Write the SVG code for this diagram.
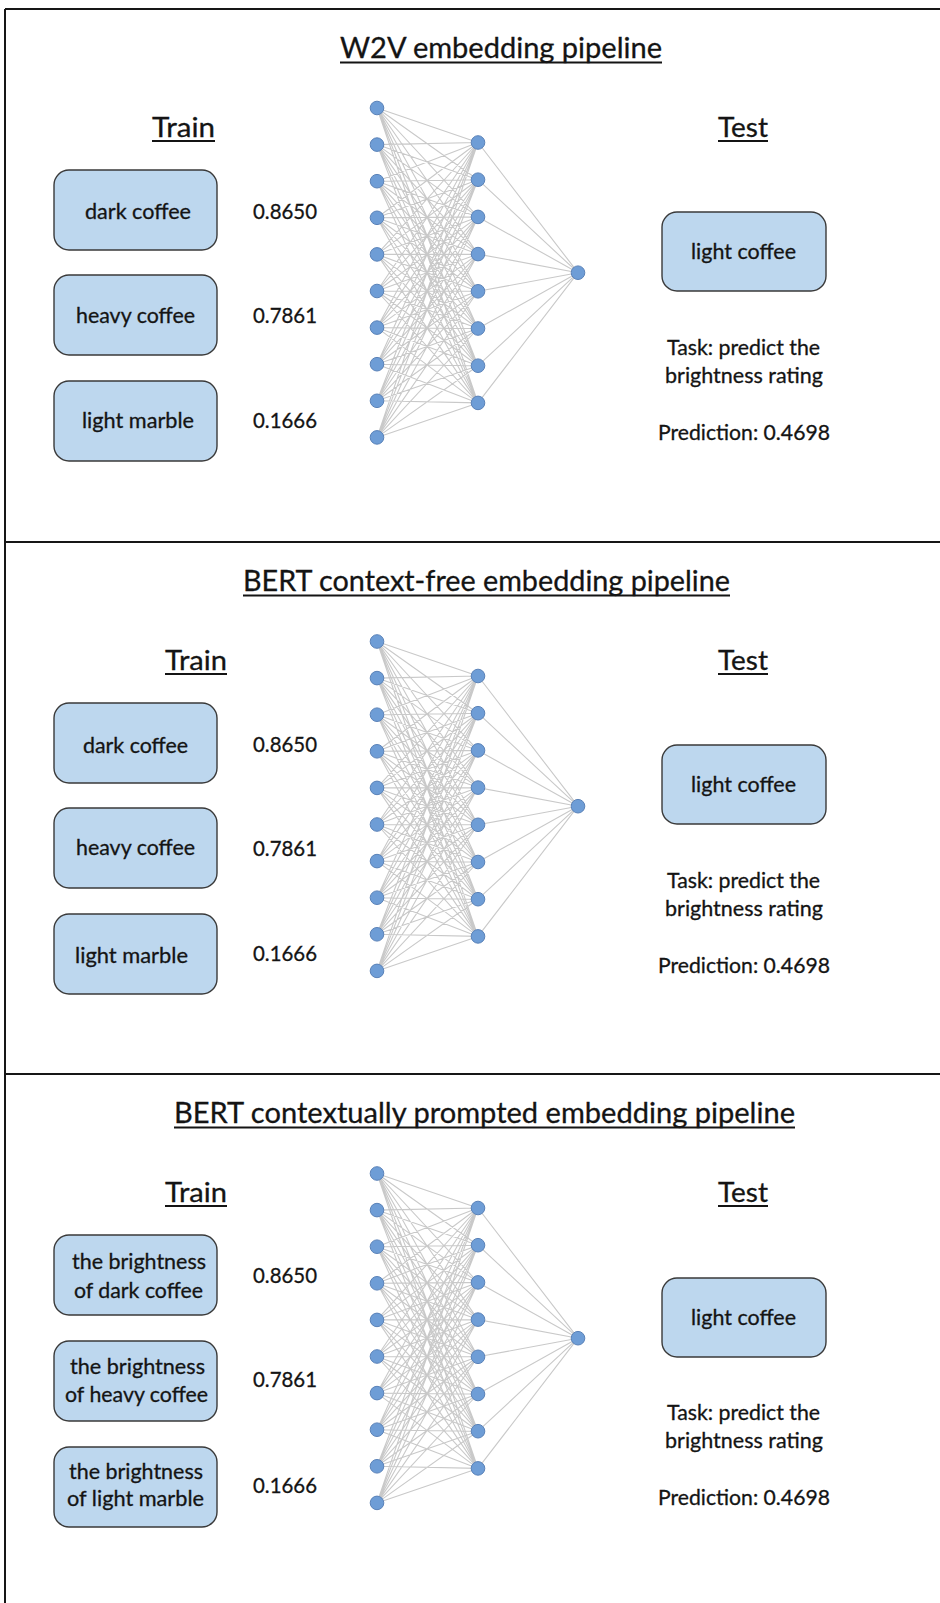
<svg xmlns="http://www.w3.org/2000/svg" xmlns:xlink="http://www.w3.org/1999/xlink" width="940" height="1603" viewBox="0 0 940 1603">
<style>
  .t{font-family:Lato,"Liberation Sans",sans-serif;fill:#141414;stroke:#141414;stroke-width:0.3px}
  .title{font-size:29px}
  .head{font-size:27px}
  .lbl{font-size:21.5px}
  .box{fill:#bdd7ee;stroke:#3a3a3a;stroke-width:1.4}
  .ul{fill:#141414}
  .n{fill:#6e9dd6;stroke:#5a82b8;stroke-width:1}
  .frame{stroke:#161616;stroke-width:2;fill:none}
</style>
<defs>
  <!-- fully connected 10-8-1 network, panel-local coordinates -->
  <path id="net-edges" fill="none" stroke="#c9c9c9" stroke-width="1.1" d="
M377 108L478 142.5M377 108L478 179.7M377 108L478 216.9M377 108L478 254.1M377 108L478 291.3M377 108L478 328.5M377 108L478 365.7M377 108L478 402.9
M377 144.6L478 142.5M377 144.6L478 179.7M377 144.6L478 216.9M377 144.6L478 254.1M377 144.6L478 291.3M377 144.6L478 328.5M377 144.6L478 365.7M377 144.6L478 402.9
M377 181.2L478 142.5M377 181.2L478 179.7M377 181.2L478 216.9M377 181.2L478 254.1M377 181.2L478 291.3M377 181.2L478 328.5M377 181.2L478 365.7M377 181.2L478 402.9
M377 217.8L478 142.5M377 217.8L478 179.7M377 217.8L478 216.9M377 217.8L478 254.1M377 217.8L478 291.3M377 217.8L478 328.5M377 217.8L478 365.7M377 217.8L478 402.9
M377 254.4L478 142.5M377 254.4L478 179.7M377 254.4L478 216.9M377 254.4L478 254.1M377 254.4L478 291.3M377 254.4L478 328.5M377 254.4L478 365.7M377 254.4L478 402.9
M377 291L478 142.5M377 291L478 179.7M377 291L478 216.9M377 291L478 254.1M377 291L478 291.3M377 291L478 328.5M377 291L478 365.7M377 291L478 402.9
M377 327.6L478 142.5M377 327.6L478 179.7M377 327.6L478 216.9M377 327.6L478 254.1M377 327.6L478 291.3M377 327.6L478 328.5M377 327.6L478 365.7M377 327.6L478 402.9
M377 364.2L478 142.5M377 364.2L478 179.7M377 364.2L478 216.9M377 364.2L478 254.1M377 364.2L478 291.3M377 364.2L478 328.5M377 364.2L478 365.7M377 364.2L478 402.9
M377 400.8L478 142.5M377 400.8L478 179.7M377 400.8L478 216.9M377 400.8L478 254.1M377 400.8L478 291.3M377 400.8L478 328.5M377 400.8L478 365.7M377 400.8L478 402.9
M377 437.4L478 142.5M377 437.4L478 179.7M377 437.4L478 216.9M377 437.4L478 254.1M377 437.4L478 291.3M377 437.4L478 328.5M377 437.4L478 365.7M377 437.4L478 402.9
M478 142.5L578 272.7M478 179.7L578 272.7M478 216.9L578 272.7M478 254.1L578 272.7M478 291.3L578 272.7M478 328.5L578 272.7M478 365.7L578 272.7M478 402.9L578 272.7"/>
  <!-- node layers of the network -->
  <g id="layer-in">
    <circle class="n" cx="377" cy="108" r="6.8"/><circle class="n" cx="377" cy="144.6" r="6.8"/>
    <circle class="n" cx="377" cy="181.2" r="6.8"/><circle class="n" cx="377" cy="217.8" r="6.8"/>
    <circle class="n" cx="377" cy="254.4" r="6.8"/><circle class="n" cx="377" cy="291" r="6.8"/>
    <circle class="n" cx="377" cy="327.6" r="6.8"/><circle class="n" cx="377" cy="364.2" r="6.8"/>
    <circle class="n" cx="377" cy="400.8" r="6.8"/><circle class="n" cx="377" cy="437.4" r="6.8"/>
  </g>
  <g id="layer-hidden">
    <circle class="n" cx="478" cy="142.5" r="6.8"/><circle class="n" cx="478" cy="179.7" r="6.8"/>
    <circle class="n" cx="478" cy="216.9" r="6.8"/><circle class="n" cx="478" cy="254.1" r="6.8"/>
    <circle class="n" cx="478" cy="291.3" r="6.8"/><circle class="n" cx="478" cy="328.5" r="6.8"/>
    <circle class="n" cx="478" cy="365.7" r="6.8"/><circle class="n" cx="478" cy="402.9" r="6.8"/>
  </g>
  <g id="layer-out">
    <circle class="n" cx="578" cy="272.7" r="6.8"/>
  </g>
</defs>

<!-- outer frame and panel separators -->
<g id="frame" class="frame">
  <line x1="5" y1="9" x2="940" y2="9"/>
  <line x1="5" y1="9" x2="5" y2="1603"/>
  <line x1="5" y1="542" x2="940" y2="542"/>
  <line x1="5" y1="1074" x2="940" y2="1074"/>
</g>

<!-- network connections for the three pipelines -->
<g id="connectors">
  <use xlink:href="#net-edges"/>
  <use xlink:href="#net-edges" transform="translate(0,533.5)"/>
  <use xlink:href="#net-edges" transform="translate(0,1065.5)"/>
</g>

<!-- ===== W2V panel ===== -->
<g id="panel-w2v">
  <g id="w2v-title">
    <text class="t title" x="501" y="58" text-anchor="middle" textLength="322" lengthAdjust="spacingAndGlyphs">W2V embedding pipeline</text>
    <rect class="ul" x="340" y="61.5" width="322" height="2"/>
  </g>
  <g id="w2v-train-head">
    <text class="t head" x="183.5" y="137" text-anchor="middle" textLength="63" lengthAdjust="spacingAndGlyphs">Train</text>
    <rect class="ul" x="152" y="140" width="63" height="2"/>
  </g>
  <g id="w2v-test-head">
    <text class="t head" x="743" y="137" text-anchor="middle" textLength="50" lengthAdjust="spacingAndGlyphs">Test</text>
    <rect class="ul" x="718" y="140" width="50" height="2"/>
  </g>
  <g id="w2v-dark-coffee">
    <rect class="box" x="54" y="170" width="163" height="80" rx="15"/>
    <text class="t lbl" x="138" y="219" text-anchor="middle" textLength="106" lengthAdjust="spacingAndGlyphs">dark coffee</text>
  </g>
  <g id="w2v-heavy-coffee">
    <rect class="box" x="54" y="275" width="163" height="80" rx="15"/>
    <text class="t lbl" x="135.5" y="323" text-anchor="middle" textLength="119" lengthAdjust="spacingAndGlyphs">heavy coffee</text>
  </g>
  <g id="w2v-light-marble">
    <rect class="box" x="54" y="381" width="163" height="80" rx="15"/>
    <text class="t lbl" x="138" y="428" text-anchor="middle" textLength="112" lengthAdjust="spacingAndGlyphs">light marble</text>
  </g>
  <g id="w2v-scores">
    <text class="t lbl" x="253" y="219" textLength="64" lengthAdjust="spacingAndGlyphs">0.8650</text>
    <text class="t lbl" x="253" y="323" textLength="64" lengthAdjust="spacingAndGlyphs">0.7861</text>
    <text class="t lbl" x="253" y="428" textLength="64" lengthAdjust="spacingAndGlyphs">0.1666</text>
  </g>
  <g id="w2v-net">
    <use xlink:href="#layer-in"/><use xlink:href="#layer-hidden"/><use xlink:href="#layer-out"/>
  </g>
  <g id="w2v-light-coffee">
    <rect class="box" x="662" y="212" width="164" height="79" rx="15"/>
    <text class="t lbl" x="743.5" y="259" text-anchor="middle" textLength="105" lengthAdjust="spacingAndGlyphs">light coffee</text>
  </g>
  <g id="w2v-task">
    <text class="t lbl" x="743.5" y="355" text-anchor="middle" textLength="153" lengthAdjust="spacingAndGlyphs">Task: predict the</text>
    <text class="t lbl" x="744" y="383" text-anchor="middle" textLength="158" lengthAdjust="spacingAndGlyphs">brightness rating</text>
  </g>
  <g id="w2v-prediction">
    <text class="t lbl" x="744" y="440" text-anchor="middle" textLength="172" lengthAdjust="spacingAndGlyphs">Prediction: 0.4698</text>
  </g>
</g>

<!-- ===== BERT context-free panel ===== -->
<g id="panel-bert-free" transform="translate(0,533)">
  <g id="free-title">
    <text class="t title" x="486.5" y="58" text-anchor="middle" textLength="487" lengthAdjust="spacingAndGlyphs">BERT context-free embedding pipeline</text>
    <rect class="ul" x="243" y="61.5" width="487" height="2"/>
  </g>
  <g id="free-train-head">
    <text class="t head" x="196" y="137" text-anchor="middle" textLength="62" lengthAdjust="spacingAndGlyphs">Train</text>
    <rect class="ul" x="165" y="140" width="62" height="2"/>
  </g>
  <g id="free-test-head">
    <text class="t head" x="743" y="137" text-anchor="middle" textLength="50" lengthAdjust="spacingAndGlyphs">Test</text>
    <rect class="ul" x="718" y="140" width="50" height="2"/>
  </g>
  <g id="free-dark-coffee">
    <rect class="box" x="54" y="170" width="163" height="80" rx="15"/>
    <text class="t lbl" x="135.5" y="220" text-anchor="middle" textLength="105" lengthAdjust="spacingAndGlyphs">dark coffee</text>
  </g>
  <g id="free-heavy-coffee">
    <rect class="box" x="54" y="275" width="163" height="80" rx="15"/>
    <text class="t lbl" x="135.5" y="322" text-anchor="middle" textLength="119" lengthAdjust="spacingAndGlyphs">heavy coffee</text>
  </g>
  <g id="free-light-marble">
    <rect class="box" x="54" y="381" width="163" height="80" rx="15"/>
    <text class="t lbl" x="131.5" y="430" text-anchor="middle" textLength="113" lengthAdjust="spacingAndGlyphs">light marble</text>
  </g>
  <g id="free-scores">
    <text class="t lbl" x="253" y="219" textLength="64" lengthAdjust="spacingAndGlyphs">0.8650</text>
    <text class="t lbl" x="253" y="323" textLength="64" lengthAdjust="spacingAndGlyphs">0.7861</text>
    <text class="t lbl" x="253" y="428" textLength="64" lengthAdjust="spacingAndGlyphs">0.1666</text>
  </g>
  <g id="free-net" transform="translate(0,0.5)">
    <use xlink:href="#layer-in"/><use xlink:href="#layer-hidden"/><use xlink:href="#layer-out"/>
  </g>
  <g id="free-light-coffee">
    <rect class="box" x="662" y="212" width="164" height="79" rx="15"/>
    <text class="t lbl" x="743.5" y="259" text-anchor="middle" textLength="105" lengthAdjust="spacingAndGlyphs">light coffee</text>
  </g>
  <g id="free-task">
    <text class="t lbl" x="743.5" y="355" text-anchor="middle" textLength="153" lengthAdjust="spacingAndGlyphs">Task: predict the</text>
    <text class="t lbl" x="744" y="383" text-anchor="middle" textLength="158" lengthAdjust="spacingAndGlyphs">brightness rating</text>
  </g>
  <g id="free-prediction">
    <text class="t lbl" x="744" y="440" text-anchor="middle" textLength="172" lengthAdjust="spacingAndGlyphs">Prediction: 0.4698</text>
  </g>
</g>

<!-- ===== BERT contextually prompted panel ===== -->
<g id="panel-bert-prompted" transform="translate(0,1065)">
  <g id="prompted-title">
    <text class="t title" x="484.5" y="58" text-anchor="middle" textLength="621" lengthAdjust="spacingAndGlyphs">BERT contextually prompted embedding pipeline</text>
    <rect class="ul" x="174" y="61.5" width="621" height="2"/>
  </g>
  <g id="prompted-train-head">
    <text class="t head" x="196" y="137" text-anchor="middle" textLength="62" lengthAdjust="spacingAndGlyphs">Train</text>
    <rect class="ul" x="165" y="140" width="62" height="2"/>
  </g>
  <g id="prompted-test-head">
    <text class="t head" x="743" y="137" text-anchor="middle" textLength="50" lengthAdjust="spacingAndGlyphs">Test</text>
    <rect class="ul" x="718" y="140" width="50" height="2"/>
  </g>
  <g id="prompted-dark-coffee">
    <rect class="box" x="54" y="170" width="163" height="80" rx="15"/>
    <text class="t lbl" x="139" y="204" text-anchor="middle" textLength="134" lengthAdjust="spacingAndGlyphs">the brightness</text>
    <text class="t lbl" x="138.5" y="233" text-anchor="middle" textLength="129" lengthAdjust="spacingAndGlyphs">of dark coffee</text>
  </g>
  <g id="prompted-heavy-coffee">
    <rect class="box" x="54" y="276" width="163" height="80" rx="15"/>
    <text class="t lbl" x="137.5" y="309" text-anchor="middle" textLength="135" lengthAdjust="spacingAndGlyphs">the brightness</text>
    <text class="t lbl" x="136.5" y="337" text-anchor="middle" textLength="143" lengthAdjust="spacingAndGlyphs">of heavy coffee</text>
  </g>
  <g id="prompted-light-marble">
    <rect class="box" x="54" y="382" width="163" height="80" rx="15"/>
    <text class="t lbl" x="136" y="414" text-anchor="middle" textLength="134" lengthAdjust="spacingAndGlyphs">the brightness</text>
    <text class="t lbl" x="135.5" y="441" text-anchor="middle" textLength="137" lengthAdjust="spacingAndGlyphs">of light marble</text>
  </g>
  <g id="prompted-scores">
    <text class="t lbl" x="253" y="218" textLength="64" lengthAdjust="spacingAndGlyphs">0.8650</text>
    <text class="t lbl" x="253" y="322" textLength="64" lengthAdjust="spacingAndGlyphs">0.7861</text>
    <text class="t lbl" x="253" y="428" textLength="64" lengthAdjust="spacingAndGlyphs">0.1666</text>
  </g>
  <g id="prompted-net" transform="translate(0,0.5)">
    <use xlink:href="#layer-in"/><use xlink:href="#layer-hidden"/><use xlink:href="#layer-out"/>
  </g>
  <g id="prompted-light-coffee">
    <rect class="box" x="662" y="213" width="164" height="79" rx="15"/>
    <text class="t lbl" x="743.5" y="260" text-anchor="middle" textLength="105" lengthAdjust="spacingAndGlyphs">light coffee</text>
  </g>
  <g id="prompted-task">
    <text class="t lbl" x="743.5" y="355" text-anchor="middle" textLength="153" lengthAdjust="spacingAndGlyphs">Task: predict the</text>
    <text class="t lbl" x="744" y="383" text-anchor="middle" textLength="158" lengthAdjust="spacingAndGlyphs">brightness rating</text>
  </g>
  <g id="prompted-prediction">
    <text class="t lbl" x="744" y="440" text-anchor="middle" textLength="172" lengthAdjust="spacingAndGlyphs">Prediction: 0.4698</text>
  </g>
</g>
</svg>
